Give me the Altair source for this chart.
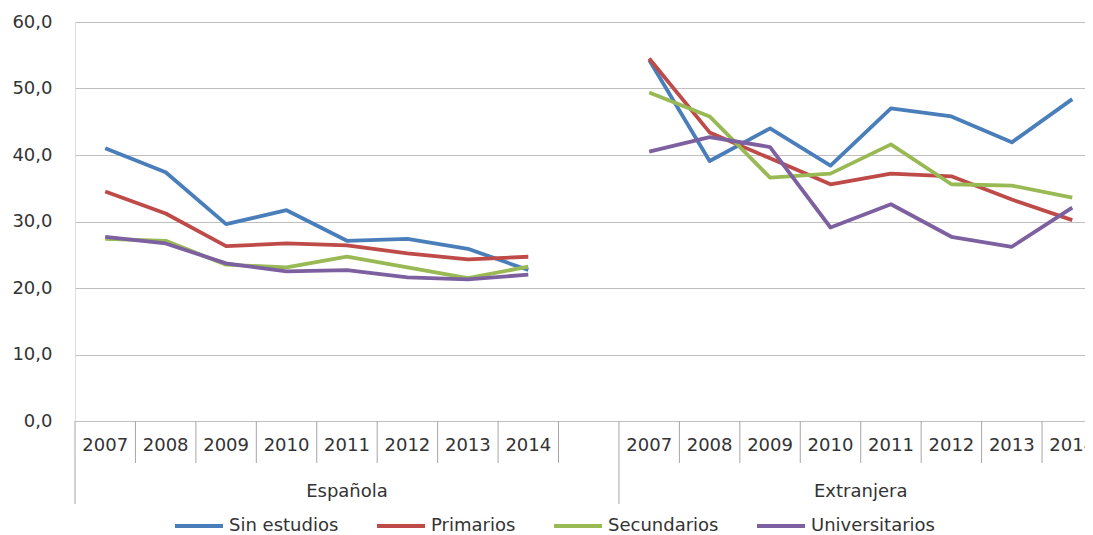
import altair as alt
import pandas as pd

years = ["2007", "2008", "2009", "2010", "2011", "2012", "2013", "2014"]
groups = ["Española", "Extranjera"]
series = ["Sin estudios", "Primarios", "Secundarios", "Universitarios"]
colors = ["#4A7EBB", "#BE4B48", "#98B954", "#7D60A0"]

# Española
esp_sin = [41.0, 37.4, 29.6, 31.7, 27.1, 27.4, 25.9, 22.7]
esp_pri = [34.5, 31.2, 26.3, 26.7, 26.4, 25.2, 24.3, 24.7]
esp_sec = [27.4, 27.1, 23.5, 23.1, 24.7, 23.1, 21.5, 23.2]
esp_uni = [27.7, 26.7, 23.7, 22.5, 22.7, 21.6, 21.3, 22.0]
# Extranjera
ext_sin = [54.3, 39.1, 44.0, 38.4, 47.0, 45.8, 41.9, 48.4]
ext_pri = [54.5, 43.4, 39.5, 35.6, 37.2, 36.8, 33.3, 30.2]
ext_sec = [49.4, 45.8, 36.6, 37.2, 41.6, 35.6, 35.4, 33.6]
ext_uni = [40.5, 42.7, 41.2, 29.1, 32.6, 27.7, 26.2, 32.1]

y_ticks = [0, 10, 20, 30, 40, 50, 60]

group_data = {
    "Española": [esp_sin, esp_pri, esp_sec, esp_uni],
    "Extranjera": [ext_sin, ext_pri, ext_sec, ext_uni],
}
group_offset = {"Española": 0, "Extranjera": 9}
group_span = {"Española": (0, 9), "Extranjera": (9, 17)}

rows = []
for g in groups:
    for s, vals in zip(series, group_data[g]):
        for i, (yr, v) in enumerate(zip(years, vals)):
            rows.append(dict(grupo=g, serie=s, year=yr,
                             pos=group_offset[g] + i + 0.5, valor=v))
df = pd.DataFrame(rows)

cat_rows = []
for g in groups:
    for i, yr in enumerate(years):
        cat_rows.append(dict(year=yr, pos=group_offset[g] + i + 0.5))
cat_df = pd.DataFrame(cat_rows)

grp_df = pd.DataFrame([dict(grupo=g, pos=(group_span[g][0] + group_span[g][1]) / 2)
                       for g in groups])

short_b = [b for b in range(1, 17) if b != 9]
long_b = [0, 9, 17]
short_df = pd.DataFrame({"b": short_b})
long_df = pd.DataFrame({"b": long_b})

PLOT_W = 1010
CAT_W = 60.44
xscale = alt.Scale(domain=[0, PLOT_W / CAT_W], nice=False, zero=False)
yscale = alt.Scale(domain=[0, 60], nice=False)
FONT = "DejaVu Sans"
TXT = "#333333"

lines = alt.Chart(df).mark_line(strokeWidth=3.8, strokeJoin="round").encode(
    x=alt.X("pos:Q", scale=xscale, axis=None),
    y=alt.Y("valor:Q", scale=yscale, axis=alt.Axis(
        values=y_ticks, title=None, domain=False, ticks=False,
        grid=True, gridColor="#BFBFBF", gridWidth=1,
        labelExpr="replace(format(datum.value, '.1f'), '.', ',')",
        labelFont=FONT, labelFontSize=18, labelColor=TXT, labelPadding=23)),
    color=alt.Color("serie:N", scale=alt.Scale(domain=series, range=colors),
                    legend=alt.Legend(orient="none", legendX=98, legendY=478,
                                      direction="horizontal", title=None,
                                      symbolType="stroke", symbolSize=2304,
                                      symbolStrokeWidth=3.8, labelFont=FONT,
                                      labelFontSize=18, labelColor=TXT,
                                      columnPadding=30, labelOffset=4, padding=0)),
    detail="grupo:N",
    order="pos:Q",
)

year_txt = alt.Chart(cat_df).mark_text(font=FONT, fontSize=18, color=TXT,
                                       baseline="middle").encode(
    x=alt.X("pos:Q", scale=xscale, axis=None),
    y=alt.value(424),
    text="year:N",
)

grp_txt = alt.Chart(grp_df).mark_text(font=FONT, fontSize=18, color=TXT,
                                      baseline="middle").encode(
    x=alt.X("pos:Q", scale=xscale, axis=None),
    y=alt.value(470),
    text="grupo:N",
)

short_rules = alt.Chart(short_df).mark_rule(color="#A6A6A6", strokeWidth=1).encode(
    x=alt.X("b:Q", scale=xscale, axis=None),
    y=alt.value(399), y2=alt.value(441),
)
long_rules = alt.Chart(long_df).mark_rule(color="#A6A6A6", strokeWidth=1).encode(
    x=alt.X("b:Q", scale=xscale, axis=None),
    y=alt.value(399), y2=alt.value(482),
)

chart = alt.layer(lines, short_rules, long_rules, year_txt, grp_txt).properties(
    width=PLOT_W, height=399,
    autosize=alt.AutoSizeParams(type="none"),
    padding={"left": 67, "top": 14, "right": 0, "bottom": 114},
).configure_view(stroke=None).configure(background="white")

chart.save("out.html", embed_options={"renderer": "svg", "actions": False})
